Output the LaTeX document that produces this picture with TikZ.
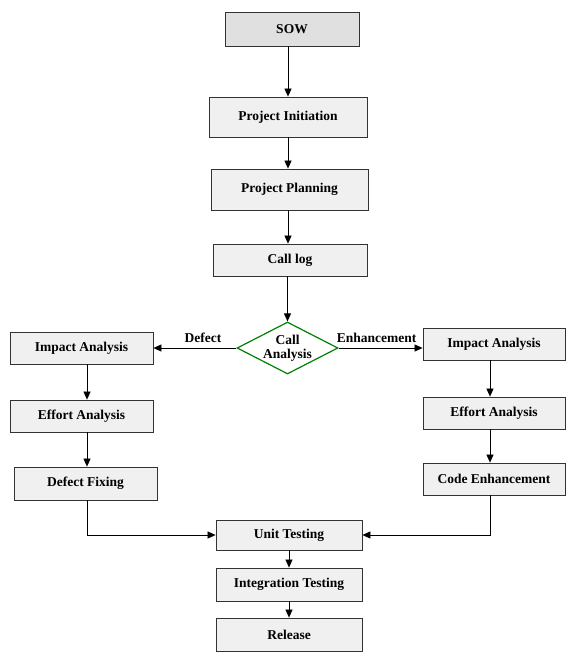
\documentclass[tikz,border=0pt]{standalone}
\usepackage{fontspec}
\setmainfont{Liberation Serif}
\usetikzlibrary{arrows.meta,shapes.geometric}
\begin{document}
\begin{tikzpicture}[x=1pt,y=-1pt,
  box/.style={draw=black!80,fill=black!6,line width=0.8pt,inner sep=0pt,font=\bfseries\fontsize{13.5}{15}\selectfont},
  lbl/.style={font=\bfseries\fontsize{13.5}{15}\selectfont},
  arr/.style={-{Triangle[length=8pt,width=7pt]},line width=0.7pt}]
\useasboundingbox (0,0) rectangle (575,666);
\node[box,fill=black!12,minimum width=134,minimum height=34] (sow) at (292,29) {SOW};
\node[box,minimum width=158,minimum height=40] (pi) at (288,117) {Project Initiation};
\node[box,minimum width=157,minimum height=41] (pp) at (289.5,189.5) {Project Planning};
\node[box,minimum width=154,minimum height=32] (cl) at (290,260) {Call log};
\node[draw=green!50!black,fill=white,line width=1.2pt,diamond,aspect=1.95,minimum width=101,minimum height=52,inner sep=0pt,
  font=\bfseries\fontsize{13.5}{14}\selectfont,align=center] (ca) at (287.5,348) {Call\\Analysis};
\node[box,minimum width=143,minimum height=32] (ia1) at (81.5,348) {Impact Analysis};
\node[box,minimum width=143,minimum height=32] (ea1) at (81.5,416) {Effort Analysis};
\node[box,minimum width=143,minimum height=33] (df) at (85.5,483.5) {Defect Fixing};
\node[box,minimum width=142,minimum height=32] (ia2) at (494,344) {Impact Analysis};
\node[box,minimum width=142,minimum height=32] (ea2) at (494,413) {Effort Analysis};
\node[box,minimum width=142,minimum height=32] (ce) at (494,479) {Code Enhancement};
\node[box,minimum width=146,minimum height=30] (ut) at (289,535) {Unit Testing};
\node[box,minimum width=146,minimum height=33] (it) at (289,584.5) {Integration Testing};
\node[box,minimum width=146,minimum height=33] (rl) at (289,634.5) {Release};
\draw[arr] (sow.south -| 288,0) -- (pi.north -| 288,0);
\draw[arr] (pi.south -| 288,0) -- (pp.north -| 288,0);
\draw[arr] (pp.south -| 288,0) -- (cl.north -| 288,0);
\draw[arr] (cl.south -| ca.north) -- (ca.north);
\draw[arr] (ca.west) -- (ia1.east |- ca.west) node[midway,above,lbl,yshift=2pt,xshift=8pt] {Defect};
\draw[arr] (ca.east) -- (ia2.west |- ca.east) node[midway,above,lbl,yshift=2pt,xshift=-4pt] {Enhancement};
\draw[arr] (ia1.south -| 87,0) -- (ea1.north -| 87,0);
\draw[arr] (ea1.south -| 87,0) -- (df.north -| 87,0);
\draw[arr] (ia2.south -| 490,0) -- (ea2.north -| 490,0);
\draw[arr] (ea2.south -| 490,0) -- (ce.north -| 490,0);
\draw[arr] (df.south -| 87,0) |- (ut.west);
\draw[arr] (ce.south -| 490,0) |- (ut.east);
\draw[arr] (ut) -- (it);
\draw[arr] (it) -- (rl);
\end{tikzpicture}
\end{document}
